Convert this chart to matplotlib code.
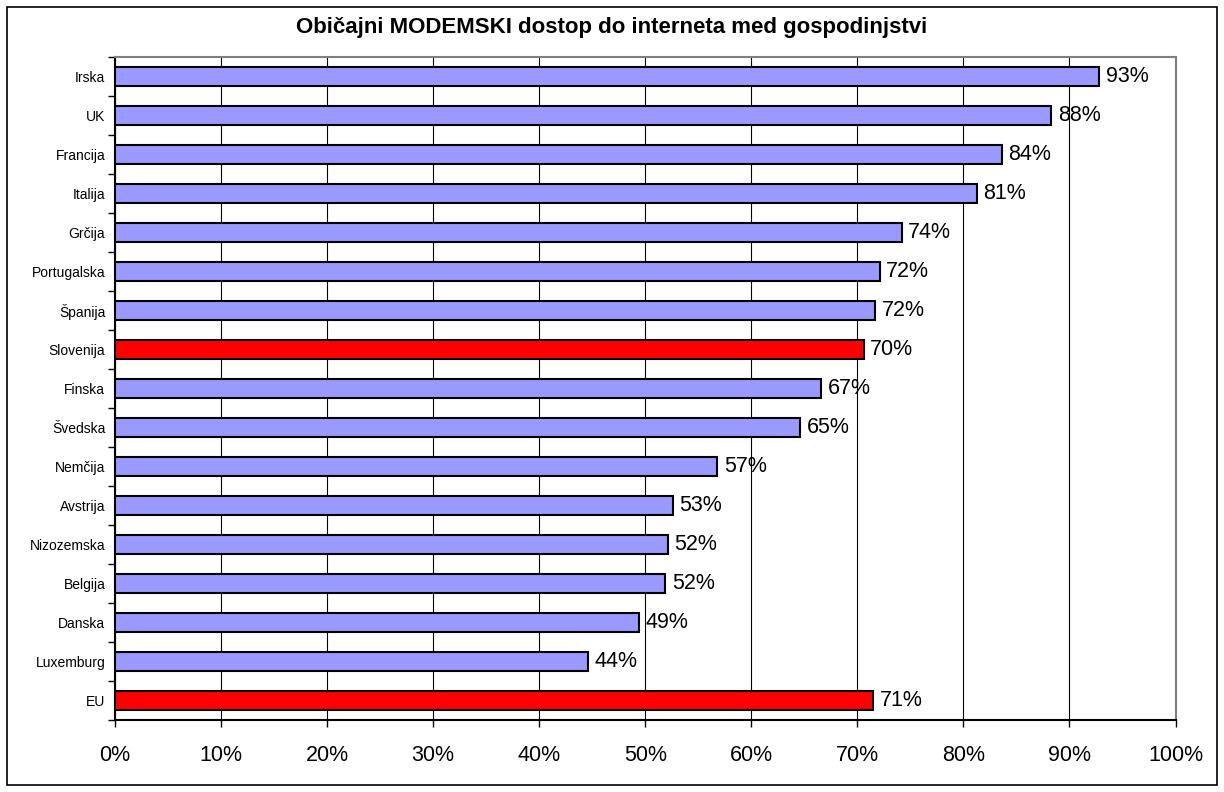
import numpy as np
import matplotlib
matplotlib.use("Agg")
import matplotlib.pyplot as plt
from matplotlib.patches import Rectangle

plt.rcParams['font.family'] = ['Liberation Sans', 'DejaVu Sans']

# data (top to bottom)
countries = ["Irska", "UK", "Francija", "Italija", "Grčija", "Portugalska", "Španija",
             "Slovenija", "Finska", "Švedska", "Nemčija", "Avstrija", "Nizozemska",
             "Belgija", "Danska", "Luxemburg", "EU"]
values = [92.8, 88.3, 83.6, 81.3, 74.2, 72.1, 71.7, 70.6, 66.6, 64.6, 56.8, 52.6,
          52.1, 51.9, 49.4, 44.6, 71.5]
labels = ["93%", "88%", "84%", "81%", "74%", "72%", "72%", "70%", "67%", "65%",
          "57%", "53%", "52%", "52%", "49%", "44%", "71%"]
highlight = ["Slovenija", "EU"]
xticks = [0, 10, 20, 30, 40, 50, 60, 70, 80, 90, 100]

W, H = 1224, 792
fig = plt.figure(figsize=(W / 100, H / 100), dpi=100)
fig.patches.append(Rectangle((7 / W, 7 / H), 1210 / W, 778 / H, transform=fig.transFigure,
                             fill=False, edgecolor='black', linewidth=1.2))

ax = fig.add_axes([115 / W, 1 - 720 / H, 1060.5 / W, 663 / H])

y = np.arange(len(countries))
colors = ['#FF0000' if c in highlight else '#9999FF' for c in countries]
ax.barh(y, values, height=0.51, color=colors, edgecolor='black', linewidth=1.5, zorder=3)

for yi, v, lab in zip(y, values, labels):
    ax.text(v + 0.6, yi, lab, va='center', ha='left', fontsize=15.5, zorder=4)

ax.set_xlim(0, 100)
ax.set_ylim(len(countries) - 0.5, -0.5)
ax.set_xticks(xticks)
ax.set_xticklabels([f"{t}%" for t in xticks], fontsize=15.5)
ax.set_yticks(y)
ax.set_yticklabels(countries, fontsize=10)
ax.set_yticks(np.arange(len(countries) + 1) - 0.5, minor=True)
ax.tick_params(axis='y', which='major', length=0, pad=7)
ax.tick_params(axis='y', which='minor', length=5, width=1, direction='out')
ax.tick_params(axis='x', which='major', length=5, width=1, direction='out', pad=13)

ax.grid(axis='x', color='black', linewidth=0.8, zorder=0)
ax.set_axisbelow(True)
for side in ['top', 'right']:
    ax.spines[side].set_color('#808080')
    ax.spines[side].set_linewidth(1.5)
for side in ['left', 'bottom']:
    ax.spines[side].set_color('black')
    ax.spines[side].set_linewidth(1.5)

fig.text(0.5, 1 - 28 / H, "Običajni MODEMSKI dostop do interneta med gospodinjstvi",
         ha='center', va='center', fontsize=16, fontweight='bold')

fig.savefig("out.png", dpi=100)
